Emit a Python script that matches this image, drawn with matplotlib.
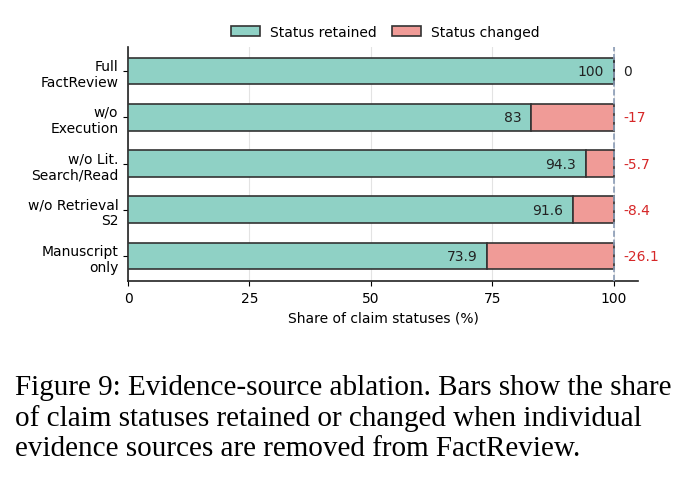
import matplotlib
matplotlib.use('Agg')
import matplotlib.pyplot as plt
import numpy as np

labels = ['Full\nFactReview', 'w/o\nExecution', 'w/o Lit.\nSearch/Read',
          'w/o Retrieval\nS2', 'Manuscript\nonly']
retained = [100, 83, 94.3, 91.6, 73.9]
changed = [0, 17, 5.7, 8.4, 26.1]
delta_labels = ['0', '-17', '-5.7', '-8.4', '-26.1']

caption = ('Figure 9: Evidence-source ablation. Bars show the share\n'
           'of claim statuses retained or changed when individual\n'
           'evidence sources are removed from FactReview.')

plt.rcParams['font.family'] = 'DejaVu Sans'
fig = plt.figure(figsize=(6.86, 4.89), dpi=100)
ax = fig.add_axes([0.1866, 0.4233, 0.7434, 0.4785])

teal = '#8fd1c5'
pink = '#f09b97'
edge = '#333333'
y = np.arange(len(labels))
h = 0.58

ax.barh(y, retained, height=h, color=teal, edgecolor=edge, linewidth=1.2,
        label='Status retained', zorder=3)
ax.barh(y, changed, left=retained, height=h, color=pink, edgecolor=edge,
        linewidth=1.2, label='Status changed', zorder=3)

for yi, r in zip(y, retained):
    ax.text(r - 2, yi, '%g' % r, ha='right', va='center', fontsize=10,
            color='#222222', zorder=4)
for yi, c, t in zip(y, changed, delta_labels):
    ax.text(102, yi, t, ha='left', va='center', fontsize=10,
            color='#222222' if c == 0 else '#d62728', zorder=4)

ax.axvline(100, color='#8a9bb5', linestyle='--', linewidth=1.2, zorder=5)

ax.set_xlim(0, 105)
ax.set_ylim(4.54, -0.52)
ax.set_xticks([0, 25, 50, 75, 100])
ax.set_yticks(y)
ax.set_yticklabels(labels, fontsize=10)
ax.tick_params(axis='x', labelsize=10)
ax.set_xlabel('Share of claim statuses (%)', fontsize=10)
ax.grid(axis='x', color='#e3e3e3', linewidth=0.8, zorder=0)
ax.set_axisbelow(True)
for s in ['top', 'right']:
    ax.spines[s].set_visible(False)
for s in ['left', 'bottom']:
    ax.spines[s].set_linewidth(1.2)
    ax.spines[s].set_color('#222222')

ax.legend(ncol=2, frameon=False, loc='lower center', bbox_to_anchor=(0.505, 0.98),
          fontsize=10, handlelength=2.1, handletextpad=0.7, columnspacing=1.1)

fig.text(0.022, 0.145, caption, ha='left', va='center', fontsize=21,
         family='Liberation Serif', linespacing=1.2)

fig.savefig('out.png', dpi=100)
